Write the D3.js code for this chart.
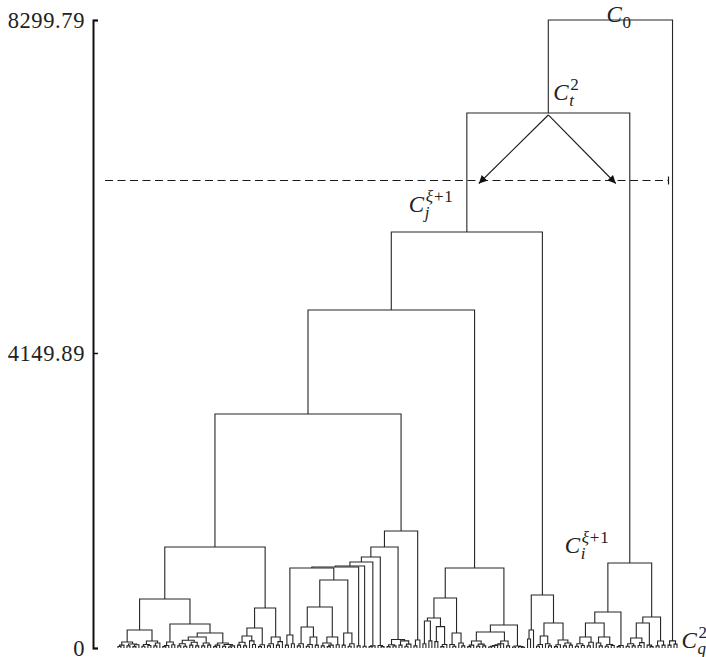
<!DOCTYPE html>
<html>
<head>
<meta charset="utf-8">
<script src="https://cdn.jsdelivr.net/npm/d3@7"></script>
<style>
  body { margin: 0; background: #fff; overflow: hidden; }
  .tick text { font-family: "Liberation Serif", serif; }
</style>
</head>
<body>
<div id="chart"></div>
<script>
// Axis ticks
var tickValues = [0, 4149.89, 8299.79];
var tickLabels = ["0", "4149.89", "8299.79"];

// Cut level (dashed line)
var cutHeight = 6306;

// Subtrees: [height, left, right], 1 = a single leaf
// left block
var p1a = [84, [40, [22, 1, 1], 1], [56, [30, 1, 1], [46, [20, 1, 1], 1]]];
var p1b = [98, [50, [25, 1, 1], [35, 1, 1]], [70, [30, 1, 1], 1]];
var p2a = [84, [35, [20, 1, 1], 1], [45, 1, 1]];
var p2b1 = [155, [110, [60, [30, 1, 1], [25, 1, 1]], [80, [40, 1, 1], [30, 1, 1]]], [70, [30, 1, 1], [40, 1, 1]]];
var p2b2 = [70, [40, [20, 1, 1], 1], [50, [25, 1, 1], [30, [15, 1, 1], 1]]];
var q1a = [169, [80, [40, 1, 1], [30, 1, 1]], [100, 1, [50, 1, 1]]];
var q1b = [45, [20, 1, 1], 1];
var q2 = [155, [60, [30, 1, 1], 1], [90, [40, 1, 1], 1]];
var blockLeft = [1421, [690, [253, p1a, p1b], [338, p2a, [211, p2b1, p2b2]]], [563, [281, q1a, q1b], q2]];

// staircase block
var a0 = [183, [40, 1, 1], [60, 1, 1]];
var b1 = [60, [30, 1, 1], 1];
var b2 = [155, [50, [25, 1, 1], 1], [40, 1, 1]];
var b3 = [155, [70, [30, 1, 1], [40, [20, 1, 1], 1]], [45, 1, 1]];
var b4 = [211, [40, 1, 1], [60, [25, 1, 1], 1]];
var s1 = [30, 1, 1];
var s2 = [25, 1, 1];
var s3 = [30, [20, 1, 1], 1];
var s4 = [35, 1, [20, 1, 1]];
var s5 = [120, [45, [20, 1, 1], [30, 1, 1]], [100, [40, 1, 1], [55, [25, 1, 1], 1]]];
var s6 = [113, [30, 1, 1], 1];
var nodeA = [1125, a0, [957, [577, [295, b1, b2], b3], b4]];
var stair = [1646, [1421, [1280, [1210, [1153, [1139, nodeA, s1], s2], s3], s4], s5], s6];

// middle block
var r1 = [422, [380, [60, 1, 1], [100, 1, 1]], [300, [90, 1, 1], [50, [20, 1, 1], 1]]];
var r2 = [211, [50, 1, [25, 1, 1]], [70, 1, [30, 1, 1]]];
var r3 = [98, [40, [20, 1, 1], 1], [55, [25, 1, 1], [30, 1, 1]]];
var r4 = [98, [60, [45, [35, [25, [15, 1, 1], 1], 1], 1], 1], [30, 1, 1]];
var r5 = [28, [15, 1, 1], [20, 1, [10, 1, 1]]];
var blockMid = [1125, [703, r1, r2], [324, [225, r3, r4], r5]];

// small block under C_j
var u1 = [253, [126, 1, 1], 1];
var u2 = [169, [50, [25, 1, 1], 1], [60, 1, [30, 1, 1]]];
var u3 = [113, [45, [20, 1, 1], 1], [70, [30, 1, 1], [40, 1, 1]]];
var blockS = [746, u1, [352, u2, u3]];

// C_i block
var c1 = [155, [60, [25, 1, 1], [35, 1, 1]], [80, [30, 1, 1], 1]];
var c2 = [155, [70, 1, [30, 1, 1]], [50, [25, 1, 1], [35, 1, 1]]];
var c3 = [35, [20, 1, 1], 1];
var c4 = [141, [60, [25, 1, 1], [30, 1, 1]], [75, [35, 1, 1], 1]];
var c5 = [40, 1, [20, 1, 1]];
var c6 = [98, [30, 1, 1], [40, 1, 1]];
var blockCi = [1196, [506, [352, c1, c2], c3], [436, [352, c4, c5], c6]];

// C_q block
var blockCq = [100, [40, 1, 1], [55, 1, 1]];

// upper merges
var nodeCj = [5658, [4686, [3292, blockLeft, stair], blockMid], blockS];
var nodeCt = [7141, nodeCj, blockCi];
var root = [8299.79, nodeCt, blockCq];

// Chart params
var svgWidth = 706;
var svgHeight = 657;
var lineColor = "#262626";

var svg = d3.select("#chart")
  .append("svg")
  .attr("width", svgWidth)
  .attr("height", svgHeight);

function countLeaves(node) {
  return node === 1 ? 1 : countLeaves(node[1]) + countLeaves(node[2]);
}
var leafCount = countLeaves(root);

// Scales
var xLeaf = d3.scaleLinear().domain([1, leafCount]).range([118, 677]);
var yHeight = d3.scaleLinear().domain(tickValues).range([648, 353, 20]);

// Layout: leaves equally spaced, each merge sits midway between its children
var links = [];
var nodePos = new Map();
var leafIndex = 0;
function place(node) {
  if (node === 1) {
    leafIndex++;
    return { x: xLeaf(leafIndex), h: 0 };
  }
  var a = place(node[1]);
  var b = place(node[2]);
  links.push({ a: a, b: b, h: node[0] });
  var p = { x: (a.x + b.x) / 2, h: node[0] };
  nodePos.set(node, p);
  return p;
}
place(root);

// Draw the dendrogram
svg.append("g")
  .selectAll("path")
  .data(links)
  .enter()
  .append("path")
  .attr("fill", "none")
  .attr("stroke", lineColor)
  .attr("stroke-width", 1.1)
  .attr("d", d => `M${d.a.x},${yHeight(d.a.h)}V${yHeight(d.h)}H${d.b.x}V${yHeight(d.b.h)}`);

// Y axis
var yAxis = d3.axisLeft(yHeight)
  .tickValues(tickValues)
  .tickFormat((d, i) => tickLabels[i])
  .tickSizeInner(-5)
  .tickSizeOuter(-5)
  .tickPadding(8);

var axisG = svg.append("g")
  .attr("transform", "translate(93,0)")
  .call(yAxis);
axisG.select(".domain").attr("stroke", "#111").attr("stroke-width", 2);
axisG.selectAll(".tick line").attr("stroke", "#111").attr("stroke-width", 1.5);
axisG.selectAll(".tick text")
  .attr("font-size", 22.5)
  .attr("letter-spacing", 0.6)
  .attr("fill", "#222");

// Cut line
var cutY = Math.round(yHeight(cutHeight)) + 0.5;
var cutLeft = xLeaf(1) - 13;
var cutRight = Math.round(nodePos.get(root).x + 58) + 0.5;
svg.append("line")
  .attr("x1", cutLeft).attr("x2", cutRight)
  .attr("y1", cutY).attr("y2", cutY)
  .attr("stroke", "#1a1a1a")
  .attr("stroke-width", 1.2)
  .attr("stroke-dasharray", "8,4.5");
svg.append("line")
  .attr("x1", cutRight).attr("x2", cutRight)
  .attr("y1", cutY - 4).attr("y2", cutY + 4)
  .attr("stroke", "#1a1a1a")
  .attr("stroke-width", 1.2);

// Arrows from C_t^2 down to the cut
svg.append("defs").append("marker")
  .attr("id", "head")
  .attr("viewBox", "0 0 10 10")
  .attr("refX", 10).attr("refY", 5)
  .attr("markerUnits", "userSpaceOnUse")
  .attr("markerWidth", 11).attr("markerHeight", 8)
  .attr("orient", "auto")
  .append("path")
  .attr("d", "M0,0L10,5L0,10z")
  .attr("fill", "#111");

var ct = nodePos.get(nodeCt);
var cj = nodePos.get(nodeCj);
var ci = nodePos.get(blockCi);
var cq = nodePos.get(blockCq);
var rt = nodePos.get(root);
[cj.x + 12, ci.x - 14].forEach(function(tx) {
  svg.append("line")
    .attr("x1", ct.x).attr("y1", yHeight(ct.h) + 2)
    .attr("x2", tx).attr("y2", cutY + 3)
    .attr("stroke", "#1a1a1a")
    .attr("stroke-width", 1.1)
    .attr("marker-end", "url(#head)");
});

// Cluster labels: one text each, sub- and superscript as tspans
function clusterLabel(x, y, sub, subItalic, sup) {
  var t = svg.append("text")
    .attr("x", x).attr("y", y)
    .attr("font-family", "Liberation Serif, serif")
    .attr("fill", "#222");
  t.append("tspan").attr("font-size", 23).attr("font-style", "italic").text("C");
  var sx = x + 16;
  t.append("tspan").attr("x", sx).attr("y", y + 6)
    .attr("font-size", 17).attr("font-style", subItalic ? "italic" : "normal").text(sub);
  if (sup) {
    sup.forEach(function(part, i) {
      var s = t.append("tspan")
        .attr("font-size", 17)
        .attr("letter-spacing", 0.8)
        .attr("font-style", part[1] ? "italic" : "normal")
        .text(part[0]);
      if (i === 0) s.attr("x", sx + 1).attr("y", y - 10);
    });
  }
}

clusterLabel(rt.x - 4, yHeight(rt.h) + 2, "0", false, null);
clusterLabel(ct.x + 5, yHeight(ct.h) - 13, "t", true, [["2", false]]);
clusterLabel(cj.x - 58, yHeight(cj.h) - 20, "j", true, [["ξ", true], ["+1", false]]);
clusterLabel(ci.x - 65, yHeight(ci.h) - 10, "i", true, [["ξ", true], ["+1", false]]);
clusterLabel(cq.x + 9, yHeight(0), "q", true, [["2", false]]);
</script>
</body>
</html>
